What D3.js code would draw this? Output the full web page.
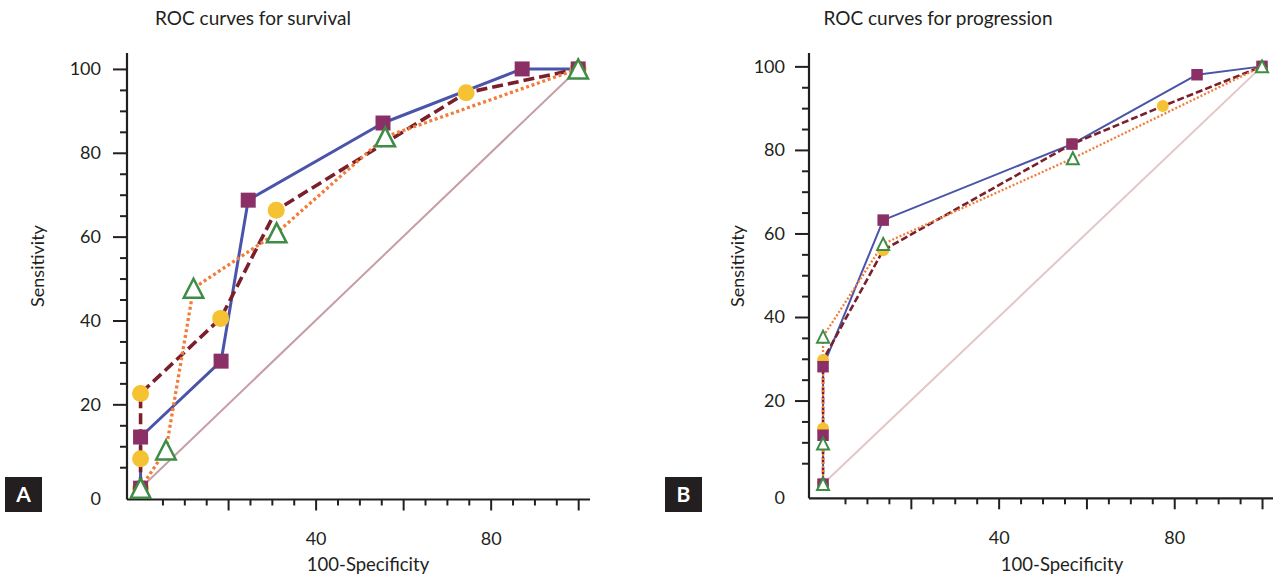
<!DOCTYPE html>
<html>
<head>
<meta charset="utf-8">
<script src="https://cdn.jsdelivr.net/npm/d3@7"></script>
<style>
  body { margin: 0; background: #ffffff; }
  svg text { font-family: Lato, "Noto Sans", sans-serif; fill: #231f20; }
</style>
</head>
<body>
<svg id="chart" width="1274" height="581"></svg>
<script>
// ROC points: x = 100 - specificity (%), y = sensitivity (%)
const survivalFprA = [0, 0, 18.4, 24.6, 55.4, 87.2, 100];
const survivalTprA = [0, 12.2, 30.3, 68.7, 87.1, 100, 100];
const survivalFprB = [0, 0, 0, 18.3, 31.0, 74.4, 100];
const survivalTprB = [0, 7.0, 22.6, 40.5, 66.3, 94.3, 100];
const survivalFprC = [0, 5.8, 12.1, 31.1, 55.9, 100];
const survivalTprC = [0, 9.1, 47.7, 60.9, 83.8, 100];

const progressionFprA = [0, 0, 0, 13.7, 56.7, 85.2, 100];
const progressionTprA = [0, 11.7, 28.1, 63.2, 81.4, 98.0, 100];
const progressionFprB = [0, 0, 0, 13.7, 56.7, 77.4, 100];
const progressionTprB = [0, 13.3, 29.7, 56.0, 81.4, 90.5, 100];
const progressionFprC = [0, 0, 0, 13.7, 56.9, 100];
const progressionTprC = [0, 9.7, 35.3, 57.5, 78.0, 100];

const diagonal = [0, 100];

const majorTicks = [20, 40, 60, 80, 100];
const minorTicks = [5, 10, 15, 25, 30, 35, 45, 50, 55, 65, 70, 75, 85, 90, 95];
const xTickLabels = [40, 80];
const yTickLabels = [20, 40, 60, 80, 100];

const titles = ["ROC curves for survival", "ROC curves for progression"];
const panelLetters = ["A", "B"];
const xTitle = "100-Specificity";
const yTitle = "Sensitivity";

const colors = {
  blue: "#4a54a8",
  maroon: "#7a1f2b",
  orange: "#f27d3a",
  square: "#8a3066",
  circle: "#f4c232",
  triangle: "#3e8c45",
  axis: "#231f20"
};

const zip = (xs, ys) => xs.map((x, i) => [x, ys[i]]);

// Triangle centred on its bounding box
function triangleType(w, h) {
  return {
    draw(ctx) {
      ctx.moveTo(0, -h / 2);
      ctx.lineTo(w / 2, h / 2);
      ctx.lineTo(-w / 2, h / 2);
      ctx.closePath();
    }
  };
}

const panels = [
  {
    title: titles[0], letter: panelLetters[0],
    xDomain: [-3.1, 102.7], xRange: [127, 590],
    yDomain: [-2.7, 103.8], yRange: [499.5, 53],
    titleX: 253, xTitleX: 368, yTitleX: 38, letterX: 5,
    diagColor: "#c79ea6", diagWidth: 2,
    lw: { solid: 3, dash: 3.6, dot: 3.3 },
    dash: "11 5", dot: "3 2.7",
    sq: 15, circR: 8.5, tri: [19.5, 19], triStroke: 2.5,
    series: [
      { pts: zip(survivalFprA, survivalTprA), marker: "square" },
      { pts: zip(survivalFprB, survivalTprB), marker: "circle" },
      { pts: zip(survivalFprC, survivalTprC), marker: "triangle" }
    ]
  },
  {
    title: titles[1], letter: panelLetters[1],
    xDomain: [-3.2, 102.5], xRange: [809, 1273],
    yDomain: [-3.4, 103.2], yRange: [498.3, 53],
    titleX: 938, xTitleX: 1062, yTitleX: 738, letterX: 665,
    diagColor: "#e4c6c6", diagWidth: 2,
    lw: { solid: 2, dash: 2.6, dot: 2.3 },
    dash: "7 3", dot: "2 2",
    sq: 11.5, circR: 6, tri: [12, 12], triStroke: 2,
    series: [
      { pts: zip(progressionFprA, progressionTprA), marker: "square" },
      { pts: zip(progressionFprB, progressionTprB), marker: "circle" },
      { pts: zip(progressionFprC, progressionTprC), marker: "triangle" }
    ]
  }
];

const svg = d3.select("#chart");

panels.forEach(p => {
  const x = d3.scaleLinear().domain(p.xDomain).range(p.xRange);
  const y = d3.scaleLinear().domain(p.yDomain).range(p.yRange);
  const g = svg.append("g");

  // Title
  g.append("text")
    .attr("x", p.titleX).attr("y", 25)
    .attr("text-anchor", "middle")
    .style("font-size", "19px")
    .text(p.title);

  // Axes: major ticks with labels, minor ticks without
  const xMajor = d3.axisBottom(x).tickValues(majorTicks).tickSize(11).tickPadding(22)
    .tickFormat(d => xTickLabels.includes(d) ? d : "");
  const xMinor = d3.axisBottom(x).tickValues(minorTicks).tickSize(6).tickFormat("");
  const yMajor = d3.axisLeft(y).tickValues(majorTicks).tickSize(14).tickPadding(p.letter === "A" ? 12 : 10)
    .tickFormat(d => yTickLabels.includes(d) ? d : "");
  const yMinor = d3.axisLeft(y).tickValues(minorTicks).tickSize(7).tickFormat("");

  const baseY = p.yRange[0];
  const baseX = p.xRange[0];

  [xMinor, xMajor].forEach(ax => {
    const a = g.append("g").attr("transform", `translate(0,${baseY})`).call(ax);
    a.select(".domain").remove();
    a.selectAll("line").attr("stroke", colors.axis).attr("stroke-width", 2);
    a.selectAll("text").style("font-size", "18px").style("font-family", "Lato, sans-serif").attr("fill", colors.axis);
  });
  [yMinor, yMajor].forEach(ax => {
    const a = g.append("g").attr("transform", `translate(${baseX},0)`).call(ax);
    a.select(".domain").remove();
    a.selectAll("line").attr("stroke", colors.axis).attr("stroke-width", 2);
    a.selectAll("text").style("font-size", "18px").style("font-family", "Lato, sans-serif").attr("fill", colors.axis);
  });

  // Axis lines
  g.append("line")
    .attr("x1", x(p.xDomain[0])).attr("x2", x(p.xDomain[1]))
    .attr("y1", baseY).attr("y2", baseY)
    .attr("stroke", colors.axis).attr("stroke-width", 2.2);
  g.append("line")
    .attr("x1", baseX).attr("x2", baseX)
    .attr("y1", y(p.yDomain[0])).attr("y2", y(p.yDomain[1]))
    .attr("stroke", colors.axis).attr("stroke-width", 2.2);

  // "0" label at the axis corner
  g.append("text")
    .attr("x", baseX - (p.letter === "A" ? 26 : 24))
    .attr("y", y(p.yDomain[0]))
    .attr("dy", "0.32em")
    .attr("text-anchor", "end")
    .style("font-size", "18px")
    .text("0");

  // Axis titles
  g.append("text")
    .attr("x", p.xTitleX).attr("y", 571)
    .attr("text-anchor", "middle")
    .style("font-size", "18.5px")
    .text(xTitle);
  g.append("text")
    .attr("transform", `translate(${p.yTitleX + 6},266) rotate(-90)`)
    .attr("text-anchor", "middle")
    .style("font-size", "18px")
    .text(yTitle);

  // Panel letter box
  g.append("rect")
    .attr("x", p.letterX).attr("y", 477)
    .attr("width", 37).attr("height", 35)
    .attr("fill", "#231f20");
  g.append("text")
    .attr("x", p.letterX + 18.5).attr("y", 502)
    .attr("text-anchor", "middle")
    .style("font-size", "21px").style("font-weight", "bold")
    .style("fill", "#ffffff")
    .text(p.letter);

  // Chance diagonal
  const line = d3.line().x(d => x(d[0])).y(d => y(d[1]));
  g.append("path")
    .attr("d", line(zip(diagonal, diagonal)))
    .attr("fill", "none")
    .attr("stroke", p.diagColor)
    .attr("stroke-width", p.diagWidth);

  const styles = [
    { stroke: colors.blue, width: p.lw.solid, dash: null },
    { stroke: colors.maroon, width: p.lw.dash, dash: p.dash },
    { stroke: colors.orange, width: p.lw.dot, dash: p.dot }
  ];

  // Curves
  p.series.forEach((s, i) => {
    g.append("path")
      .attr("d", line(s.pts))
      .attr("fill", "none")
      .attr("stroke", styles[i].stroke)
      .attr("stroke-width", styles[i].width)
      .attr("stroke-dasharray", styles[i].dash)
      .attr("stroke-linejoin", "round");
  });

  // Markers: circles, then squares, then triangles on top
  const order = ["circle", "square", "triangle"];
  order.forEach(m => {
    const s = p.series.find(d => d.marker === m);
    const sel = g.append("g").selectAll("path").data(s.pts).join("path")
      .attr("transform", d => `translate(${x(d[0])},${y(d[1])})`);
    if (m === "square") {
      sel.attr("d", d3.symbol().type(d3.symbolSquare).size(p.sq * p.sq)())
        .attr("fill", colors.square);
    } else if (m === "circle") {
      sel.attr("d", d3.symbol().type(d3.symbolCircle).size(Math.PI * p.circR * p.circR)())
        .attr("fill", colors.circle);
    } else {
      sel.attr("d", d3.symbol().type(triangleType(p.tri[0], p.tri[1]))())
        .attr("fill", "#ffffff")
        .attr("stroke", colors.triangle)
        .attr("stroke-width", p.triStroke);
    }
  });
});
</script>
</body>
</html>
